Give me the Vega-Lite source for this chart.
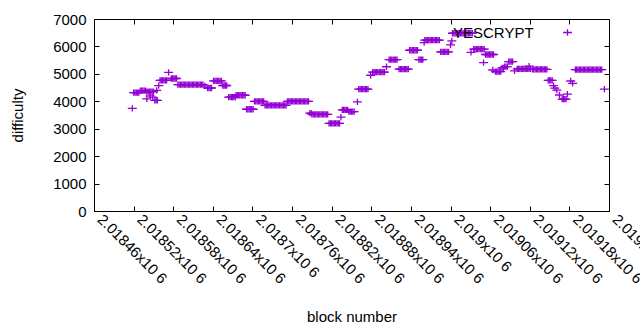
{
"$schema": "https://vega.github.io/schema/vega-lite/v6.json",
"width": 515, "height": 192,
"autosize": {"type": "none"},
"padding": {"left": 94, "top": 19, "right": 31, "bottom": 119},
"background": "white",
"config": {"font": "Liberation Sans", "view": {"stroke": "black", "strokeWidth": 1},
  "axis": {"labelColor": "#000", "titleColor": "#000", "tickColor": "#000", "domainColor": "#000", "labelFontSize": 15, "titleFontSize": 15, "titleFontWeight": "normal", "grid": false, "tickSize": -5, "labelFlush": false, "labelOverlap": false}},
"data": {"values": [
{"block":2018518,"difficulty":3745},
{"block":2018520,"difficulty":4315},{"block":2018522,"difficulty":4315},{"block":2018524,"difficulty":4315},{"block":2018526,"difficulty":4315},{"block":2018528,"difficulty":4315},
{"block":2018530,"difficulty":4390},{"block":2018532,"difficulty":4390},{"block":2018534,"difficulty":4390},{"block":2018536,"difficulty":4390},{"block":2018538,"difficulty":4390},
{"block":2018540,"difficulty":4085},
{"block":2018540,"difficulty":4350},{"block":2018542,"difficulty":4350},{"block":2018544,"difficulty":4350},{"block":2018545,"difficulty":4200},{"block":2018546,"difficulty":4350},{"block":2018548,"difficulty":4350},{"block":2018549,"difficulty":4150},{"block":2018550,"difficulty":4350},
{"block":2018552,"difficulty":4030},{"block":2018554,"difficulty":4030},{"block":2018555,"difficulty":4400},{"block":2018556,"difficulty":4030},
{"block":2018558,"difficulty":4570},
{"block":2018560,"difficulty":4760},{"block":2018562,"difficulty":4760},{"block":2018564,"difficulty":4760},{"block":2018566,"difficulty":4760},{"block":2018568,"difficulty":4760},{"block":2018570,"difficulty":4760},
{"block":2018573,"difficulty":5057},
{"block":2018577,"difficulty":4830},{"block":2018579,"difficulty":4830},{"block":2018581,"difficulty":4830},{"block":2018583,"difficulty":4830},{"block":2018585,"difficulty":4830},
{"block":2018587,"difficulty":4610},{"block":2018589,"difficulty":4610},{"block":2018591,"difficulty":4610},{"block":2018593,"difficulty":4610},{"block":2018595,"difficulty":4610},{"block":2018597,"difficulty":4610},{"block":2018599,"difficulty":4610},{"block":2018601,"difficulty":4610},{"block":2018603,"difficulty":4610},{"block":2018605,"difficulty":4610},{"block":2018607,"difficulty":4610},{"block":2018609,"difficulty":4610},{"block":2018611,"difficulty":4610},{"block":2018613,"difficulty":4610},{"block":2018615,"difficulty":4610},{"block":2018617,"difficulty":4610},{"block":2018619,"difficulty":4610},{"block":2018621,"difficulty":4610},{"block":2018623,"difficulty":4610},{"block":2018625,"difficulty":4610},
{"block":2018628,"difficulty":4560},
{"block":2018632,"difficulty":4485},{"block":2018634,"difficulty":4485},{"block":2018636,"difficulty":4485},{"block":2018638,"difficulty":4485},
{"block":2018641,"difficulty":4745},{"block":2018643,"difficulty":4745},{"block":2018645,"difficulty":4745},{"block":2018647,"difficulty":4745},{"block":2018649,"difficulty":4745},{"block":2018651,"difficulty":4745},{"block":2018653,"difficulty":4745},
{"block":2018655,"difficulty":4575},{"block":2018657,"difficulty":4575},{"block":2018659,"difficulty":4575},{"block":2018661,"difficulty":4575},
{"block":2018664,"difficulty":4150},{"block":2018666,"difficulty":4150},{"block":2018668,"difficulty":4150},{"block":2018670,"difficulty":4150},{"block":2018672,"difficulty":4150},{"block":2018674,"difficulty":4150},
{"block":2018675,"difficulty":4220},{"block":2018677,"difficulty":4220},{"block":2018679,"difficulty":4220},{"block":2018681,"difficulty":4220},{"block":2018683,"difficulty":4220},{"block":2018685,"difficulty":4220},{"block":2018687,"difficulty":4220},{"block":2018689,"difficulty":4220},
{"block":2018691,"difficulty":3710},{"block":2018693,"difficulty":3710},{"block":2018695,"difficulty":3710},{"block":2018697,"difficulty":3710},{"block":2018699,"difficulty":3710},{"block":2018701,"difficulty":3710},
{"block":2018703,"difficulty":4000},{"block":2018705,"difficulty":4000},{"block":2018707,"difficulty":4000},{"block":2018709,"difficulty":4000},{"block":2018711,"difficulty":4000},{"block":2018713,"difficulty":4000},{"block":2018715,"difficulty":4000},{"block":2018717,"difficulty":4000},
{"block":2018719,"difficulty":3850},{"block":2018721,"difficulty":3850},{"block":2018723,"difficulty":3850},{"block":2018725,"difficulty":3850},{"block":2018727,"difficulty":3850},{"block":2018729,"difficulty":3850},{"block":2018731,"difficulty":3850},{"block":2018733,"difficulty":3850},{"block":2018735,"difficulty":3850},{"block":2018737,"difficulty":3850},{"block":2018739,"difficulty":3850},{"block":2018741,"difficulty":3850},{"block":2018743,"difficulty":3850},{"block":2018745,"difficulty":3850},{"block":2018747,"difficulty":3850},{"block":2018749,"difficulty":3850},{"block":2018751,"difficulty":3850},
{"block":2018753,"difficulty":4000},{"block":2018755,"difficulty":4000},{"block":2018757,"difficulty":4000},{"block":2018759,"difficulty":4000},{"block":2018761,"difficulty":4000},{"block":2018763,"difficulty":4000},{"block":2018765,"difficulty":4000},{"block":2018767,"difficulty":4000},{"block":2018769,"difficulty":4000},{"block":2018771,"difficulty":4000},{"block":2018773,"difficulty":4000},{"block":2018775,"difficulty":4000},{"block":2018777,"difficulty":4000},{"block":2018779,"difficulty":4000},{"block":2018781,"difficulty":4000},{"block":2018783,"difficulty":4000},{"block":2018785,"difficulty":4000},
{"block":2018787,"difficulty":3565},{"block":2018789,"difficulty":3565},
{"block":2018790,"difficulty":3520},{"block":2018792,"difficulty":3520},{"block":2018794,"difficulty":3520},{"block":2018796,"difficulty":3520},{"block":2018798,"difficulty":3520},{"block":2018800,"difficulty":3520},{"block":2018802,"difficulty":3520},{"block":2018804,"difficulty":3520},{"block":2018806,"difficulty":3520},{"block":2018808,"difficulty":3520},{"block":2018810,"difficulty":3520},{"block":2018812,"difficulty":3520},{"block":2018814,"difficulty":3520},
{"block":2018816,"difficulty":3195},{"block":2018818,"difficulty":3195},{"block":2018820,"difficulty":3195},{"block":2018822,"difficulty":3195},{"block":2018824,"difficulty":3195},{"block":2018826,"difficulty":3195},{"block":2018828,"difficulty":3195},{"block":2018830,"difficulty":3195},{"block":2018832,"difficulty":3195},
{"block":2018834,"difficulty":3420},
{"block":2018836,"difficulty":3690},{"block":2018838,"difficulty":3690},{"block":2018840,"difficulty":3690},{"block":2018842,"difficulty":3690},{"block":2018844,"difficulty":3690},
{"block":2018846,"difficulty":3620},{"block":2018848,"difficulty":3620},{"block":2018850,"difficulty":3620},{"block":2018852,"difficulty":3620},{"block":2018854,"difficulty":3620},
{"block":2018859,"difficulty":3975},
{"block":2018861,"difficulty":4440},{"block":2018863,"difficulty":4440},{"block":2018865,"difficulty":4440},{"block":2018867,"difficulty":4440},{"block":2018869,"difficulty":4440},{"block":2018871,"difficulty":4440},{"block":2018873,"difficulty":4440},{"block":2018875,"difficulty":4440},
{"block":2018879,"difficulty":4950},
{"block":2018882,"difficulty":5060},{"block":2018884,"difficulty":5060},{"block":2018886,"difficulty":5060},{"block":2018888,"difficulty":5060},{"block":2018890,"difficulty":5060},{"block":2018892,"difficulty":5060},{"block":2018894,"difficulty":5060},{"block":2018896,"difficulty":5060},{"block":2018898,"difficulty":5060},{"block":2018900,"difficulty":5060},
{"block":2018903,"difficulty":5260},
{"block":2018907,"difficulty":5520},{"block":2018909,"difficulty":5520},{"block":2018911,"difficulty":5520},{"block":2018913,"difficulty":5520},{"block":2018915,"difficulty":5520},{"block":2018917,"difficulty":5520},{"block":2018919,"difficulty":5520},
{"block":2018922,"difficulty":5170},{"block":2018924,"difficulty":5170},{"block":2018926,"difficulty":5170},{"block":2018928,"difficulty":5170},{"block":2018930,"difficulty":5170},{"block":2018932,"difficulty":5170},{"block":2018934,"difficulty":5170},{"block":2018936,"difficulty":5170},
{"block":2018938,"difficulty":5860},{"block":2018940,"difficulty":5860},{"block":2018942,"difficulty":5860},{"block":2018944,"difficulty":5860},{"block":2018946,"difficulty":5860},{"block":2018948,"difficulty":5860},{"block":2018950,"difficulty":5860},
{"block":2018952,"difficulty":5520},{"block":2018954,"difficulty":5520},{"block":2018956,"difficulty":5520},{"block":2018958,"difficulty":5520},
{"block":2018960,"difficulty":6140},
{"block":2018961,"difficulty":6230},{"block":2018963,"difficulty":6230},{"block":2018965,"difficulty":6230},{"block":2018967,"difficulty":6230},{"block":2018969,"difficulty":6230},{"block":2018971,"difficulty":6230},{"block":2018973,"difficulty":6230},{"block":2018975,"difficulty":6230},{"block":2018977,"difficulty":6230},{"block":2018979,"difficulty":6230},{"block":2018981,"difficulty":6230},{"block":2018983,"difficulty":6230},
{"block":2018985,"difficulty":5800},{"block":2018987,"difficulty":5800},{"block":2018989,"difficulty":5800},{"block":2018991,"difficulty":5800},{"block":2018993,"difficulty":5800},{"block":2018995,"difficulty":5800},{"block":2018997,"difficulty":5800},
{"block":2019000,"difficulty":6060},{"block":2019002,"difficulty":6200},
{"block":2019003,"difficulty":6480},{"block":2019005,"difficulty":6480},{"block":2019007,"difficulty":6480},{"block":2019009,"difficulty":6480},{"block":2019011,"difficulty":6480},{"block":2019013,"difficulty":6480},{"block":2019015,"difficulty":6480},{"block":2019017,"difficulty":6480},{"block":2019019,"difficulty":6480},{"block":2019021,"difficulty":6480},{"block":2019023,"difficulty":6480},{"block":2019025,"difficulty":6480},{"block":2019027,"difficulty":6480},{"block":2019029,"difficulty":6480},{"block":2019031,"difficulty":6480},{"block":2019033,"difficulty":6480},
{"block":2019031,"difficulty":5780},
{"block":2019035,"difficulty":5905},{"block":2019037,"difficulty":5905},{"block":2019039,"difficulty":5905},{"block":2019041,"difficulty":5905},{"block":2019043,"difficulty":5905},{"block":2019045,"difficulty":5905},{"block":2019047,"difficulty":5905},{"block":2019049,"difficulty":5905},{"block":2019051,"difficulty":5905},
{"block":2019050,"difficulty":5410},
{"block":2019053,"difficulty":5705},{"block":2019055,"difficulty":5705},{"block":2019057,"difficulty":5705},{"block":2019059,"difficulty":5705},{"block":2019061,"difficulty":5705},{"block":2019063,"difficulty":5705},{"block":2019065,"difficulty":5705},
{"block":2019064,"difficulty":5140},
{"block":2019068,"difficulty":5085},{"block":2019070,"difficulty":5085},{"block":2019072,"difficulty":5085},{"block":2019074,"difficulty":5085},{"block":2019076,"difficulty":5085},
{"block":2019078,"difficulty":5215},{"block":2019080,"difficulty":5215},
{"block":2019082,"difficulty":5265},{"block":2019084,"difficulty":5265},{"block":2019086,"difficulty":5265},
{"block":2019088,"difficulty":5445},{"block":2019090,"difficulty":5445},{"block":2019092,"difficulty":5445},{"block":2019094,"difficulty":5445},
{"block":2019097,"difficulty":5110},
{"block":2019101,"difficulty":5180},{"block":2019103,"difficulty":5180},{"block":2019105,"difficulty":5180},{"block":2019107,"difficulty":5180},{"block":2019109,"difficulty":5180},{"block":2019111,"difficulty":5180},{"block":2019113,"difficulty":5180},{"block":2019115,"difficulty":5180},{"block":2019117,"difficulty":5180},{"block":2019119,"difficulty":5180},{"block":2019121,"difficulty":5180},
{"block":2019119,"difficulty":5280},
{"block":2019124,"difficulty":5160},{"block":2019126,"difficulty":5160},{"block":2019128,"difficulty":5160},{"block":2019130,"difficulty":5160},{"block":2019132,"difficulty":5160},{"block":2019134,"difficulty":5160},{"block":2019136,"difficulty":5160},{"block":2019138,"difficulty":5160},{"block":2019140,"difficulty":5160},{"block":2019142,"difficulty":5160},{"block":2019144,"difficulty":5160},{"block":2019146,"difficulty":5160},
{"block":2019148,"difficulty":4760},{"block":2019150,"difficulty":4760},{"block":2019152,"difficulty":4760},{"block":2019154,"difficulty":4760},
{"block":2019156,"difficulty":4570},{"block":2019158,"difficulty":4480},{"block":2019161,"difficulty":4410},{"block":2019165,"difficulty":4230},
{"block":2019169,"difficulty":4080},{"block":2019171,"difficulty":4080},{"block":2019173,"difficulty":4080},{"block":2019175,"difficulty":4080},
{"block":2019177,"difficulty":4260},{"block":2019182,"difficulty":4740},{"block":2019185,"difficulty":4650},
{"block":2019189,"difficulty":5155},{"block":2019191,"difficulty":5155},{"block":2019193,"difficulty":5155},{"block":2019195,"difficulty":5155},{"block":2019197,"difficulty":5155},{"block":2019199,"difficulty":5155},{"block":2019201,"difficulty":5155},{"block":2019203,"difficulty":5155},{"block":2019205,"difficulty":5155},{"block":2019207,"difficulty":5155},{"block":2019209,"difficulty":5155},{"block":2019211,"difficulty":5155},{"block":2019213,"difficulty":5155},{"block":2019215,"difficulty":5155},{"block":2019217,"difficulty":5155},{"block":2019219,"difficulty":5155},{"block":2019221,"difficulty":5155},{"block":2019223,"difficulty":5155},{"block":2019225,"difficulty":5155},{"block":2019227,"difficulty":5155},{"block":2019229,"difficulty":5155},
{"block":2019233,"difficulty":4440}
]},
"layer": [
 {"mark": {"type": "point", "shape": "M-1,0H1M0,-0.7V0.7", "filled": false, "strokeWidth": 1.3, "size": 81, "opacity": 1},
  "encoding": {
   "x": {"field": "block", "type": "quantitative", "scale": {"domain": [2018460, 2019240], "nice": false, "zero": false},
     "axis": {"orient": "bottom", "title": "block number", "values": [2018460,2018520,2018580,2018640,2018700,2018760,2018820,2018880,2018940,2019000,2019060,2019120,2019180,2019240],
       "labelExpr": "format(datum.value/1000000, '.6~f') + 'x10 6'", "labelAngle": 45, "labelAlign": "left", "labelBaseline": "bottom", "labelPadding": 16,
       "titleX": 257.5, "titleY": 105, "titleBaseline": "middle", "titleAnchor": null}},
   "y": {"field": "difficulty", "type": "quantitative", "scale": {"domain": [0, 7000], "nice": false},
     "axis": {"orient": "left", "title": "difficulty", "format": "d", "values": [0,1000,2000,3000,4000,5000,6000,7000], "labelPadding": 13,
       "titleX": -77, "titleY": 96, "titleBaseline": "middle", "titleAngle": -90, "titleAlign": "center"}},
   "color": {"datum": "YESCRYPT", "type": "nominal", "scale": {"range": ["#9400d3"]},
     "legend": {"orient": "none", "legendX": 466, "legendY": 6, "title": null, "labelFontSize": 15, "labelColor": "#000", "labelOffset": -122, "symbolOffset": 0, "padding": 0,
       "symbolType": "M-1,0H1M0,-0.7V0.7", "symbolSize": 81, "symbolStrokeWidth": 1.3, "symbolStrokeColor": "#9400d3", "symbolFillColor": "transparent"}}
  }},
 {"mark": {"type": "point", "opacity": 0},
  "encoding": {
   "x": {"field": "block", "type": "quantitative", "axis": {"orient": "top", "title": null, "labels": false, "domain": false, "values": [2018460,2018520,2018580,2018640,2018700,2018760,2018820,2018880,2018940,2019000,2019060,2019120,2019180,2019240]}},
   "y": {"field": "difficulty", "type": "quantitative", "axis": {"orient": "right", "title": null, "labels": false, "domain": false, "values": [0,1000,2000,3000,4000,5000,6000,7000]}}
  }}
],
"resolve": {"axis": {"x": "independent", "y": "independent"}}
}
